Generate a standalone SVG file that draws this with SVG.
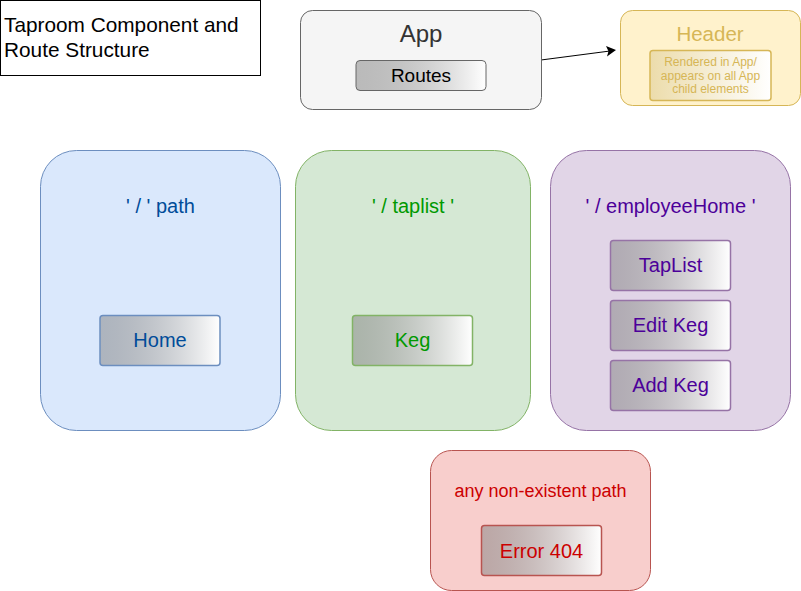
<svg xmlns="http://www.w3.org/2000/svg" width="801" height="591" viewBox="0 0 801 591">
<defs>
<linearGradient id="g" x1="0" y1="0" x2="1" y2="0">
<stop offset="0" stop-color="#808080" stop-opacity="0.5"/>
<stop offset="1" stop-color="#ffffff" stop-opacity="1"/>
</linearGradient>
<linearGradient id="gy" x1="0" y1="0" x2="1" y2="0">
<stop offset="0" stop-color="#ecdcab"/>
<stop offset="1" stop-color="#ffffff"/>
</linearGradient>
<style>
text{font-family:"Liberation Sans",Arial,Helvetica,sans-serif;text-anchor:middle}
.inner{fill:url(#g);stroke-width:1.5}
.lbl{font-size:20px}
</style>
</defs>
<rect width="801" height="591" fill="#ffffff"/>
<g id="title">
<rect x="0.5" y="0.5" width="260" height="75" fill="#fff" stroke="#000"/>
<text x="4" y="32" style="text-anchor:start;font-size:20.8px" fill="#000">Taproom Component and</text>
<text x="4" y="57" style="text-anchor:start;font-size:20.8px" fill="#000">Route Structure</text>
</g>
<g id="connectors">
<line x1="541" y1="60" x2="610" y2="51" stroke="#000" stroke-width="1"/>
<path d="M616,50 L606,46 L608.5,51.3 L607,56.5 Z" fill="#000"/>
</g>
<g id="app">
<rect x="300.5" y="10.5" width="241" height="99" rx="12" fill="#f5f5f5" stroke="#666"/>
<text x="421" y="42" style="font-size:24px" fill="#333">App</text>
<rect x="356" y="60.5" width="130" height="30" rx="4" class="inner" stroke="#666" style="stroke-width:1"/>
<text x="421" y="82" style="font-size:19px" fill="#000">Routes</text>
</g>
<g id="header">
<rect x="620.5" y="10.5" width="180" height="95" rx="12" fill="#fff2cc" stroke="#d6b656"/>
<text x="710" y="41" style="font-size:20.5px" fill="#d6b656">Header</text>
<rect x="650" y="50.5" width="121" height="50" rx="3" stroke="#d6b656" style="fill:url(#gy);stroke-width:1.5"/>
<text x="710.5" y="66" style="font-size:12px" fill="#d6b656">Rendered in App/</text>
<text x="710.5" y="79.5" style="font-size:12px" fill="#d6b656">appears on all App</text>
<text x="710.5" y="93" style="font-size:12px" fill="#d6b656">child elements</text>
</g>
<g id="root-path">
<rect x="40.5" y="150.5" width="240" height="280" rx="36" fill="#dae8fc" stroke="#6c8ebf"/>
<text x="160.5" y="213" class="lbl" fill="#004c99">' / ' path</text>
<rect x="100" y="315.5" width="120" height="50" rx="3" class="inner" stroke="#6c8ebf"/>
<text x="160" y="347" class="lbl" fill="#004c99">Home</text>
</g>
<g id="taplist-path">
<rect x="295.5" y="150.5" width="235" height="280" rx="36" fill="#d5e8d4" stroke="#82b366"/>
<text x="413" y="213" class="lbl" fill="#009900">' / taplist '</text>
<rect x="352.5" y="315.5" width="120" height="50" rx="3" class="inner" stroke="#82b366"/>
<text x="412.5" y="347" class="lbl" fill="#009900">Keg</text>
</g>
<g id="employee-path">
<rect x="550.5" y="150.5" width="240" height="280" rx="36" fill="#e1d5e7" stroke="#9673a6"/>
<text x="670.5" y="213" class="lbl" fill="#4c0099">' / employeeHome '</text>
<rect x="610.5" y="240.5" width="120" height="50" rx="3" class="inner" stroke="#9673a6"/>
<text x="670.5" y="272" class="lbl" fill="#4c0099">TapList</text>
<rect x="610.5" y="300.5" width="120" height="50" rx="3" class="inner" stroke="#9673a6"/>
<text x="670.5" y="332" class="lbl" fill="#4c0099">Edit Keg</text>
<rect x="610.5" y="360.5" width="120" height="50" rx="3" class="inner" stroke="#9673a6"/>
<text x="670.5" y="392" class="lbl" fill="#4c0099">Add Keg</text>
</g>
<g id="not-found">
<rect x="430.5" y="450.5" width="220" height="140" rx="21" fill="#f8cecc" stroke="#b85450"/>
<text x="540.5" y="497" style="font-size:18px" fill="#cc0000">any non-existent path</text>
<rect x="481.5" y="525.5" width="120" height="50" rx="3" class="inner" stroke="#b85450"/>
<text x="541.5" y="558" class="lbl" fill="#cc0000">Error 404</text>
</g>
</svg>
